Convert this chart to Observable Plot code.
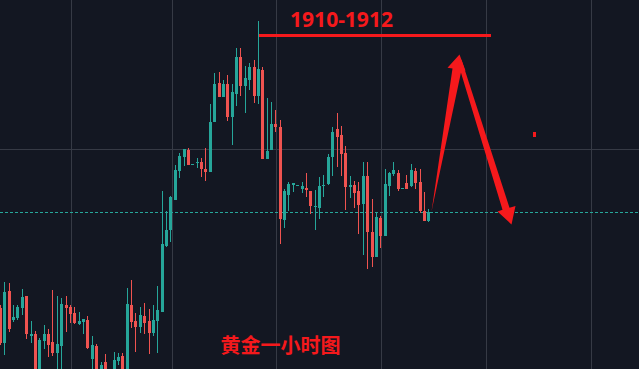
<!DOCTYPE html>
<html>
<head>
<meta charset="utf-8">
<script src="https://cdn.jsdelivr.net/npm/d3@7"></script>
<script src="https://cdn.jsdelivr.net/npm/@observablehq/plot@0.6"></script>
<style>
  html, body { margin: 0; padding: 0; background: #131722; overflow: hidden; }
</style>
</head>
<body>
<div id="chart"></div>
<script>
// Hourly gold candles (index = hour), prices in USD
const opens = [1883.7,1880.2,1885.4,1882.5,1882.7,1883.7,1884.9,1880.9,1881.1,1877.0,
1880.4,1881.1,1880.3,1879.2,1879.9,1884.0,1883.8,1883.2,1882.1,1882.3,
1882.5,1878.6,1879.9,1876.7,1878.3,1876.5,1877.0,1878.4,1878.9,1876.7,
1884.0,1882.4,1881.8,1882.9,1882.4,1881.2,1882.4,1883.3,1889.9,1891.5,
1894.5,1897.4,1898.8,1899.5,1898.0,1898.2,1898.3,1897.6,1897.3,1902.3,
1906.2,1904.8,1906.1,1902.8,1905.1,1908.8,1905.9,1906.5,1907.8,1904.9,
1907.5,1898.6,1899.5,1902.1,1901.8,1892.5,1895.0,1896.0,1895.9,1895.6,
1895.7,1895.4,1893.8,1893.7,1895.9,1896.1,1898.8,1901.6,1901.0,1899.2,
1895.8,1896.0,1895.4,1894.1,1896.9,1891.3,1888.8,1892.7,1890.9,1895.9,
1897.1,1897.2,1895.6,1896.2,1895.9,1897.4,1896.3,1893.4,1892.4];
const highs = [1884.0,1886.3,1886.2,1884.0,1884.0,1885.6,1884.9,1882.4,1881.4,1880.7,
1882.0,1881.6,1885.5,1884.9,1884.7,1884.9,1884.0,1883.8,1883.3,1882.6,
1882.9,1880.9,1880.1,1878.3,1879.1,1877.5,1879.3,1879.2,1879.2,1885.7,
1886.5,1883.2,1883.8,1884.2,1883.6,1884.0,1885.9,1895.4,1893.4,1894.9,
1898.0,1899.2,1899.6,1899.7,1898.1,1898.7,1898.7,1899.7,1904.1,1907.2,
1907.3,1906.5,1907.0,1906.1,1909.7,1909.7,1907.9,1908.2,1908.5,1912.4,
1907.8,1904.7,1904.3,1903.5,1902.5,1895.6,1896.3,1896.2,1896.0,1896.3,
1897.2,1895.4,1895.5,1896.8,1897.0,1899.1,1901.8,1903.2,1901.9,1899.9,
1896.9,1896.4,1896.3,1898.3,1898.3,1894.6,1893.2,1892.9,1897.6,1897.3,
1898.3,1897.5,1895.7,1897.0,1898.1,1897.7,1897.6,1895.3,1893.6];
const lows = [1880.0,1879.0,1881.3,1882.3,1882.5,1883.0,1880.6,1880.2,1876.5,1876.5,
1879.6,1878.8,1878.9,1877.3,1877.3,1881.3,1882.2,1882.1,1882.0,1881.1,
1879.6,1877.3,1876.0,1876.3,1876.5,1876.1,1876.7,1878.0,1876.5,1876.3,
1881.7,1879.3,1881.2,1881.1,1879.1,1880.9,1879.2,1883.3,1889.8,1890.3,
1894.5,1896.7,1897.9,1898.0,1898.0,1897.7,1896.8,1896.4,1897.3,1902.3,
1904.8,1904.8,1902.4,1900.0,1903.9,1904.9,1903.2,1905.5,1904.2,1904.1,
1898.6,1898.6,1899.5,1901.3,1890.1,1891.7,1893.4,1895.3,1895.9,1895.2,
1894.8,1893.1,1891.5,1892.6,1894.8,1896.0,1896.9,1897.8,1896.9,1893.5,
1894.7,1893.7,1891.1,1889.0,1887.6,1887.8,1888.8,1889.7,1890.9,1894.9,
1896.9,1895.4,1895.6,1895.6,1895.8,1895.6,1893.2,1892.4,1892.3];
const closes = [1880.2,1885.3,1881.6,1882.8,1883.8,1884.8,1881.1,1881.1,1877.0,1880.5,
1881.1,1880.0,1879.2,1880.1,1884.1,1883.7,1883.1,1882.2,1882.4,1882.6,
1879.7,1880.0,1876.5,1878.0,1876.9,1877.4,1878.5,1878.8,1877.0,1884.1,
1882.3,1881.8,1883.0,1882.2,1881.2,1882.5,1883.5,1890.1,1891.5,1894.8,
1897.5,1898.9,1899.6,1898.0,1898.1,1898.3,1897.6,1897.3,1902.3,1906.1,
1904.8,1906.1,1902.8,1905.3,1908.8,1905.9,1906.7,1907.8,1904.9,1907.6,
1898.6,1899.4,1902.1,1901.8,1892.6,1895.4,1896.1,1896.2,1896.0,1895.9,
1895.5,1893.9,1893.9,1895.9,1896.0,1898.8,1901.3,1900.8,1899.1,1895.8,
1896.0,1895.2,1894.0,1896.9,1891.3,1888.8,1892.8,1890.9,1896.1,1897.2,
1897.5,1895.6,1895.7,1895.6,1897.5,1896.2,1893.4,1892.4,1893.3];

// Grid positions (day separators on x, one price level on y)
const dayTicks = [16.25, 39.25, 63.25, 87.25, 111.25, 135.25];
const priceTicks = [1899.6];

// Annotations
const targetLevel = 1911.0;
const targetSpan = [59.15, 112.35];
const targetLabel = "1910-1912";
const targetLabelPos = [78.0, 1912.5];
const captionText = "黄金一小时图";
const captionPos = [63.95, 1879.9];
const arrowTails = [[98.61, 1893.4], [105.02, 1908.5]];
const arrowTips  = [[104.95, 1909.1], [116.85, 1892.1]];
const markerDot = [122.07, 1901.3, 1900.8];

const UP = "#26a69a", DOWN = "#ef5350", ANNO = "#f5191c";
const xDomain = [0, 146.2], yDomain = [1877.6, 1914.5];
const W = 639, H = 369;

const candles = opens.map((o, i) => ({
  i, open: o, high: highs[i], low: lows[i], close: closes[i],
  color: closes[i] >= o ? UP : DOWN
}));
const lastClose = closes[closes.length - 1];

// Arrow polygons built in pixel space through scales mirroring Plot's, then inverted to data
const xS = d3.scaleLinear(xDomain, [0, W]);
const yS = d3.scaleLinear(yDomain, [H, 0]);
const arrowStyles = [
  {w0: 0.5, w1: 4.5, hw: 9, head: 15},
  {w0: 2.5, w1: 3.6, hw: 9.5, head: 16.5}
];
const arrowPts = [];
arrowTails.forEach((t, k) => {
  const s = arrowStyles[k];
  const x0 = xS(t[0]), y0 = yS(t[1]), x1 = xS(arrowTips[k][0]), y1 = yS(arrowTips[k][1]);
  const L = Math.hypot(x1 - x0, y1 - y0), ux = (x1 - x0) / L, uy = (y1 - y0) / L;
  const nx = -uy, ny = ux;
  const bx = x1 - ux * s.head, by = y1 - uy * s.head;
  const pts = [
    [x0 + nx * s.w0, y0 + ny * s.w0],
    [bx + nx * s.w1, by + ny * s.w1],
    [bx + nx * s.hw, by + ny * s.hw],
    [x1, y1],
    [bx - nx * s.hw, by - ny * s.hw],
    [bx - nx * s.w1, by - ny * s.w1],
    [x0 - nx * s.w0, y0 - ny * s.w0]
  ];
  pts.forEach(p => arrowPts.push({id: k, x: xS.invert(p[0]), y: yS.invert(p[1])}));
});

const chart = Plot.plot({
  width: W, height: H,
  marginTop: 0, marginBottom: 0, marginLeft: 0, marginRight: 0,
  x: {domain: xDomain, axis: null, round: true},
  y: {domain: yDomain, axis: null},
  color: {type: "identity"},
  style: {background: "#131722", overflow: "hidden"},
  marks: [
    Plot.ruleX(dayTicks, {stroke: "#363a45", strokeWidth: 1}),
    Plot.ruleY(priceTicks, {stroke: "#363a45", strokeWidth: 1}),
    Plot.ruleY([lastClose], {stroke: UP, strokeWidth: 1, strokeDasharray: "3,2"}),
    Plot.ruleX(candles, {x: "i", y1: "low", y2: "high", stroke: "color", strokeWidth: 1, clip: true}),
    Plot.ruleX(candles, {x: "i", y1: "open", y2: "close", stroke: "color", strokeWidth: 3, clip: true}),
    Plot.ruleY([targetLevel], {x1: targetSpan[0], x2: targetSpan[1], stroke: ANNO, strokeWidth: 3}),
    Plot.text([targetLabel], {x: targetLabelPos[0], y: targetLabelPos[1], text: d => d,
      fill: ANNO, fontSize: 21, fontWeight: "bold", fontFamily: "'Noto Sans', sans-serif"}),
    Plot.line(arrowPts, {x: "x", y: "y", z: "id", fill: ANNO, stroke: "none"}),
    Plot.ruleX([markerDot], {x: d => d[0], y1: d => d[1], y2: d => d[2], stroke: ANNO, strokeWidth: 3}),
    Plot.text([captionText], {x: captionPos[0], y: captionPos[1], text: d => d,
      fill: ANNO, fontSize: 20, fontWeight: "bold", fontFamily: "'Noto Sans CJK SC', sans-serif"})
  ]
});
document.getElementById("chart").appendChild(chart);
</script>
</body>
</html>
